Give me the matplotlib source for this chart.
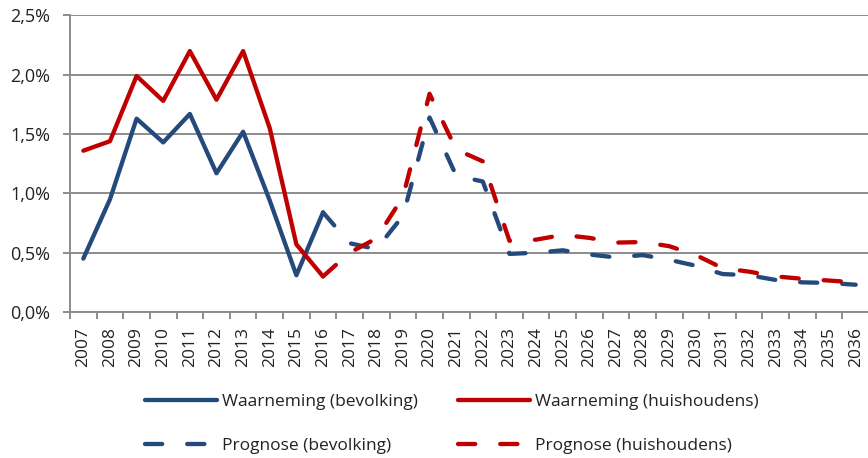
import matplotlib.pyplot as plt

plt.rcParams['font.family'] = ['Open Sans', 'DejaVu Sans']

# jaren op de x-as
years = [str(y) for y in range(2007, 2037)]

# groei in %, waarneming 2007-2016
obs_bev = [0.45, 0.95, 1.63, 1.43, 1.67, 1.17, 1.52, 0.94, 0.31, 0.84]
obs_hh = [1.36, 1.44, 1.99, 1.78, 2.20, 1.79, 2.20, 1.55, 0.57, 0.30]

# prognose 2016-2036
prog_bev = [0.84, 0.58, 0.53, 0.81, 1.64, 1.15, 1.10, 0.49, 0.50, 0.52, 0.485,
            0.46, 0.48, 0.44, 0.39, 0.32, 0.31, 0.27, 0.25, 0.245, 0.23]
prog_hh = [0.30, 0.50, 0.62, 0.97, 1.84, 1.37, 1.27, 0.60, 0.61, 0.65, 0.625,
           0.585, 0.59, 0.555, 0.48, 0.37, 0.34, 0.30, 0.28, 0.265, 0.25]

y_ticks = [0.0, 0.5, 1.0, 1.5, 2.0, 2.5]
y_labels = ['0,0%', '0,5%', '1,0%', '1,5%', '2,0%', '2,5%']

blue = '#24497b'
red = '#c00000'
grey = '#8c8c8c'
txt = '#222222'
fs = 12.5

fig = plt.figure(figsize=(8.68, 4.58), dpi=100)
ax = fig.add_axes([70 / 868, 146 / 458, 799 / 868, 296.5 / 458])

x_obs = list(range(len(obs_bev)))
x_prog = list(range(len(obs_bev) - 1, len(years)))
dash = (0, (4.0, 5.8))
lw = 3.1

l1, = ax.plot(x_obs, obs_bev, color=blue, lw=lw, solid_capstyle='round',
              solid_joinstyle='round', label='Waarneming (bevolking)')
l2, = ax.plot(x_obs, obs_hh, color=red, lw=lw, solid_capstyle='round',
              solid_joinstyle='round', label='Waarneming (huishoudens)')
l3, = ax.plot(x_prog, prog_bev, color=blue, lw=lw, linestyle=dash,
              dash_capstyle='round', dash_joinstyle='round',
              label='Prognose (bevolking)')
l4, = ax.plot(x_prog, prog_hh, color=red, lw=lw, linestyle=dash,
              dash_capstyle='round', dash_joinstyle='round',
              label='Prognose (huishoudens)')

ax.set_xlim(-0.5, len(years) - 0.5)
ax.set_ylim(0, 2.5)

# as en rasterlijnen
ax.set_yticks(y_ticks)
ax.set_yticklabels(y_labels)
ax.set_xticks(range(len(years)))
ax.set_xticklabels(years, rotation=90)
ax.set_xticks([i - 0.5 for i in range(len(years) + 1)], minor=True)
ax.tick_params(axis='x', which='major', length=0, pad=11, labelsize=fs, labelcolor=txt)
ax.tick_params(axis='x', which='minor', length=5, width=1.4, color=grey)
ax.tick_params(axis='y', length=5, width=1.4, color=grey, pad=9, labelsize=13,
               labelcolor=txt)
ax.yaxis.grid(True, color=grey, lw=1.4)
ax.set_axisbelow(True)
for s in ['top', 'right']:
    ax.spines[s].set_visible(False)
for s in ['left', 'bottom']:
    ax.spines[s].set_color(grey)
    ax.spines[s].set_linewidth(1.4)

fig.legend([l1, l3, l2, l4], [l1.get_label(), l3.get_label(), l2.get_label(), l4.get_label()],
           ncol=2, loc='center', bbox_to_anchor=(451.5 / 868, 34 / 458),
           frameon=False, fontsize=fs, handlelength=4.15, handletextpad=0.29,
           columnspacing=2.3, labelspacing=1.65, labelcolor=txt)

fig.savefig('out.png', dpi=100)
